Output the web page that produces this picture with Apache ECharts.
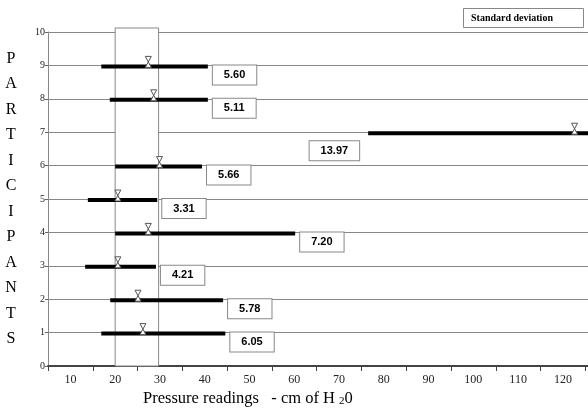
<!DOCTYPE html>
<html>
<head>
<meta charset="utf-8">
<script src="https://cdn.jsdelivr.net/npm/echarts@6/dist/echarts.min.js"></script>
<style>
  html, body { margin: 0; padding: 0; background: #fff; }
  #chart { width: 588px; height: 408px; }
</style>
</head>
<body>
<div id="chart"></div>
<script>
// ---- data ----
const participants = [1, 2, 3, 4, 5, 6, 7, 8, 9];
const lowValues    = [16.9, 18.9, 13.3, 20.0, 13.9, 20.0, 76.5, 18.8, 16.9];
const highValues   = [44.6, 44.1, 29.1, 60.2, 29.4, 39.4, 130.0, 40.7, 40.7];
const meanValues   = [26.2, 25.1, 20.6, 27.4, 20.6, 29.9, 122.6, 28.6, 27.4];
const sdLabels     = ['6.05', '5.78', '4.21', '7.20', '3.31', '5.66', '13.97', '5.11', '5.60'];
const xTickLabels  = [10, 20, 30, 40, 50, 60, 70, 80, 90, 100, 110, 120];
const xTickMarks   = [5, 15, 25, 35, 45, 55, 65, 75, 85, 95, 105, 115, 125];
const normalRange  = [20, 29.7];
const normalTop    = 10.12;

const rows = participants.map((p, i) => [p, lowValues[i], highValues[i], meanValues[i]]);

function renderBox(params, api) {
  const a = api.coord([api.value(0), 0]);
  const b = api.coord([api.value(1), api.value(2)]);
  return {
    type: 'rect',
    shape: { x: a[0], y: b[1], width: b[0] - a[0], height: a[1] - b[1] },
    style: { fill: '#fff', stroke: '#888', lineWidth: 1 }
  };
}

function renderItem(params, api) {
  const y = api.value(0);
  const pL = api.coord([api.value(1), y]);
  const pR = api.coord([api.value(2), y]);
  const pM = api.coord([api.value(3), y]);
  const cs = params.coordSys;
  const cy = pL[1] + 1;
  const x1 = Math.max(pL[0], cs.x);
  const x2 = Math.min(pR[0], cs.x + cs.width);
  const sd = sdLabels[params.dataIndex];
  const right = pR[0] + 60 < cs.x + cs.width;
  return {
    type: 'group',
    children: [
      { type: 'rect', shape: { x: x1, y: cy - 2, width: x2 - x1, height: 4 }, style: { fill: '#000' } },
      { type: 'polygon',
        shape: { points: [[pM[0] - 3, cy - 10], [pM[0] + 3, cy - 10], [pM[0] - 3, cy + 1], [pM[0] + 3, cy + 1]] },
        style: { fill: '#fff', stroke: '#555', lineWidth: 1 } },
      { type: 'text',
        x: right ? pR[0] + 5 : pL[0] - 9,
        y: right ? cy - 1 : cy + 8,
        style: {
          text: sd, fontSize: 11, fontWeight: 'bold', fontFamily: 'Liberation Sans',
          fill: '#000', align: right ? 'left' : 'right', verticalAlign: 'top',
          backgroundColor: '#fff', borderColor: '#888', borderWidth: 1,
          padding: [3, 11], lineHeight: 13
        } }
    ]
  };
}

const chart = echarts.init(document.getElementById('chart'), null, { renderer: 'canvas' });
chart.setOption({
  animation: false,
  backgroundColor: '#fff',
  title: [
    {
      text: 'Standard deviation',
      left: 463, top: 8,
      padding: [5, 31, 5, 8],
      borderColor: '#888', borderWidth: 1,
      textStyle: { fontFamily: 'Liberation Serif', fontWeight: 'bold', fontSize: 10, color: '#000', lineHeight: 10 }
    },
    {
      text: '{m|Pressure readings   - cm of H }{s|2}{m|0}',
      left: 143, top: 390, padding: 0,
      textStyle: {
        fontWeight: 'normal',
        rich: {
          m: { fontFamily: 'Liberation Serif', fontWeight: 'normal', fontSize: 16.5, color: '#000', lineHeight: 17, verticalAlign: 'top' },
          s: { fontFamily: 'Liberation Serif', fontWeight: 'normal', fontSize: 11, color: '#000', lineHeight: 11, padding: [6, 0, 0, 0], verticalAlign: 'top' }
        }
      }
    }
  ],
  graphic: [
    {
      type: 'text', x: 11, y: 46,
      style: {
        text: 'PARTICIPANTS'.split('').join('\n'),
        fontFamily: 'Liberation Serif', fontSize: 16, lineHeight: 25.5,
        fill: '#000', align: 'center', verticalAlign: 'top'
      }
    }
  ],
  grid: { left: 48, right: 0, top: 32, bottom: 42, containLabel: false },
  xAxis: {
    type: 'value', min: 5, max: 125.6,
    axisLine: { show: true, lineStyle: { color: '#444', width: 2 } },
    axisTick: { show: true, length: 5, customValues: xTickMarks, lineStyle: { color: '#444' } },
    axisLabel: { customValues: xTickLabels, fontFamily: 'Liberation Serif', fontSize: 12, color: '#222', margin: 8 },
    splitLine: { show: false }
  },
  yAxis: {
    type: 'value', min: 0, max: 10, interval: 1,
    axisLine: { show: true, lineStyle: { color: '#888', width: 1 } },
    axisTick: { show: true, length: 3, lineStyle: { color: '#666' } },
    axisLabel: { fontFamily: 'Liberation Serif', fontSize: 10, color: '#222', margin: 3 },
    splitLine: { show: true, lineStyle: { color: '#888', width: 1 } }
  },
  series: [
    {
      type: 'custom',
      renderItem: renderBox,
      data: [[normalRange[0], normalRange[1], normalTop]],
      encode: { x: [0, 1], y: 2 },
      clip: false,
      silent: true,
      z: 1
    },
    {
      type: 'custom',
      renderItem: renderItem,
      data: rows,
      encode: { x: [1, 2, 3], y: 0 },
      clip: false,
      z: 3
    }
  ]
});
</script>
</body>
</html>
